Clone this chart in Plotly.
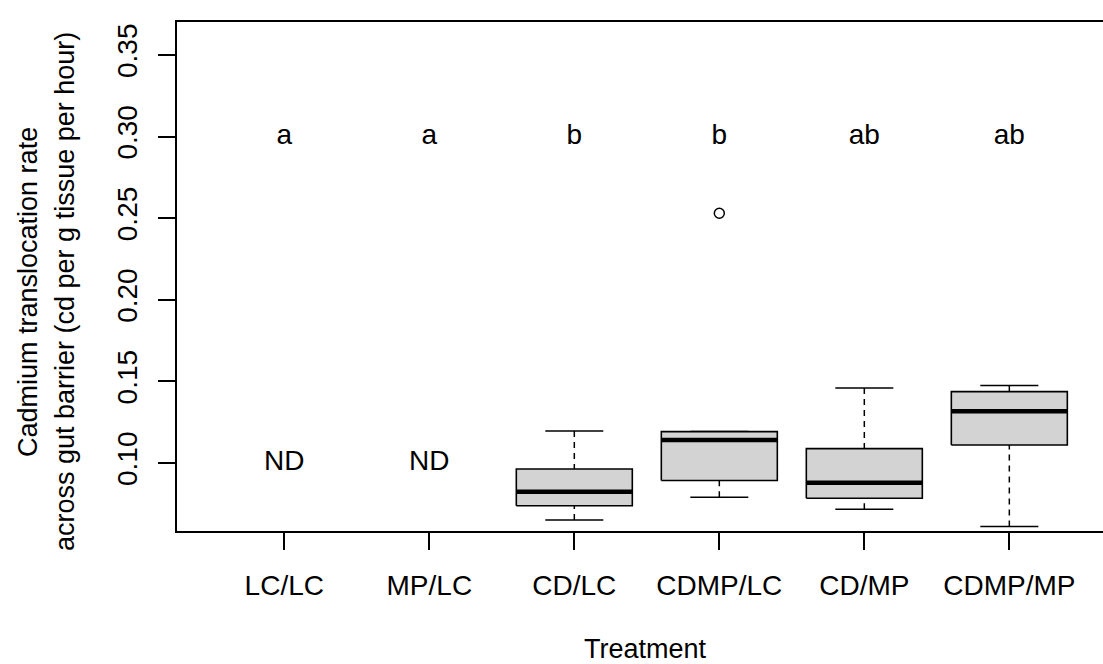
import plotly.graph_objects as go

categories = ["LC/LC", "MP/LC", "CD/LC", "CDMP/LC", "CD/MP", "CDMP/MP"]
positions = [1, 2, 3, 4, 5, 6]
# box statistics (None = not detected)
lower_whisker = [None, None, 0.0651, 0.0790, 0.0716, 0.0610]
q1 = [None, None, 0.0738, 0.0892, 0.0784, 0.1110]
median = [None, None, 0.0824, 0.1141, 0.0879, 0.1317]
q3 = [None, None, 0.0963, 0.1192, 0.1088, 0.1437]
upper_whisker = [None, None, 0.1196, 0.1192, 0.1460, 0.1474]
outlier_x = [4]
outlier_y = [0.2530]
letters = ["a", "a", "b", "b", "ab", "ab"]
letter_y = 0.30
nd_x = [1, 2]
nd_text = ["ND", "ND"]
nd_y = 0.10
y_ticks = [0.10, 0.15, 0.20, 0.25, 0.30, 0.35]

FONT = "Liberation Sans, Arial, sans-serif"
FS = 28
FS_TITLE = 27
half_box = 0.4
half_cap = 0.2

fig = go.Figure()
for x, lw, a, m, b, uw in zip(positions, lower_whisker, q1, median, q3, upper_whisker):
    if m is None:
        continue
    # whiskers (dashed), drawn from whisker end to box
    for end, edge in ((lw, a), (uw, b)):
        if abs(end - edge) > 1e-9:
            fig.add_trace(go.Scatter(x=[x, x], y=[end, edge], mode="lines",
                                     line=dict(color="black", width=1.5, dash="6px,5px"),
                                     hoverinfo="skip", showlegend=False))
        fig.add_trace(go.Scatter(x=[x - half_cap, x + half_cap], y=[end, end], mode="lines",
                                 line=dict(color="black", width=1.5),
                                 hoverinfo="skip", showlegend=False))
    # box body
    fig.add_trace(go.Scatter(x=[x - half_box, x + half_box, x + half_box, x - half_box, x - half_box],
                             y=[a, a, b, b, a], mode="lines", fill="toself",
                             fillcolor="#D3D3D3", line=dict(color="black", width=1.6),
                             hoverinfo="skip", showlegend=False))
    # median
    fig.add_trace(go.Scatter(x=[x - half_box, x + half_box], y=[m, m], mode="lines",
                             line=dict(color="black", width=4.5),
                             hoverinfo="skip", showlegend=False))

fig.add_trace(go.Scatter(x=outlier_x, y=outlier_y, mode="markers",
                         marker=dict(symbol="circle-open", size=10, color="black",
                                     line=dict(width=1.5, color="black")),
                         hoverinfo="skip", showlegend=False))

fig.add_trace(go.Scatter(x=positions, y=[letter_y] * len(positions), mode="text",
                         text=letters, textfont=dict(family=FONT, size=FS, color="black"),
                         hoverinfo="skip", showlegend=False))
fig.add_trace(go.Scatter(x=nd_x, y=[nd_y] * len(nd_x), mode="text",
                         text=nd_text, textfont=dict(family=FONT, size=FS, color="black"),
                         hoverinfo="skip", showlegend=False))

fig.update_layout(
    width=1103, height=664,
    margin=dict(l=177, r=0, t=22, b=133, pad=0),
    plot_bgcolor="white", paper_bgcolor="white",
    font=dict(family=FONT, size=FS, color="black"),
    showlegend=False,
)
fig.update_xaxes(range=[0.26, 6.646], tickmode="array", tickvals=positions, ticktext=categories,
                 showgrid=False, zeroline=False, showline=True, linecolor="black", linewidth=1.5,
                 mirror=True, ticks="outside", ticklen=17, tickwidth=1.5, tickcolor="black",
                 ticklabelstandoff=12, tickfont=dict(family=FONT, size=FS, color="black"))
fig.update_yaxes(range=[0.0583, 0.3702], tickmode="array", tickvals=y_ticks,
                 ticktext=[f"{v:.2f}" for v in y_ticks], tickangle=-90,
                 showgrid=False, zeroline=False, showline=True, linecolor="black", linewidth=1.5,
                 ticks="outside", ticklen=17, tickwidth=1.5, tickcolor="black",
                 ticklabelstandoff=10, tickfont=dict(family=FONT, size=FS, color="black"))

plot_w = 1103 - 177
plot_h = 664 - 22 - 133
fig.add_annotation(text="Treatment", xref="paper", yref="paper", x=(645 - 177) / plot_w,
                   y=-(649 - 531) / plot_h,
                   xanchor="center", yanchor="middle", showarrow=False,
                   font=dict(family=FONT, size=FS_TITLE, color="black"))
fig.add_annotation(text="Cadmium translocation rate", xref="paper", yref="paper",
                   x=-(177 - 28) / plot_w, y=(531 - 292) / plot_h, textangle=-90,
                   xanchor="center", yanchor="middle", showarrow=False,
                   font=dict(family=FONT, size=FS_TITLE, color="black"))
fig.add_annotation(text="across gut barrier (cd per g tissue per hour)", xref="paper", yref="paper",
                   x=-(177 - 65) / plot_w, y=(531 - 292) / plot_h, textangle=-90,
                   xanchor="center", yanchor="middle", showarrow=False,
                   font=dict(family=FONT, size=FS_TITLE, color="black"))

fig.write_html("out.html", config={"displayModeBar": False})
